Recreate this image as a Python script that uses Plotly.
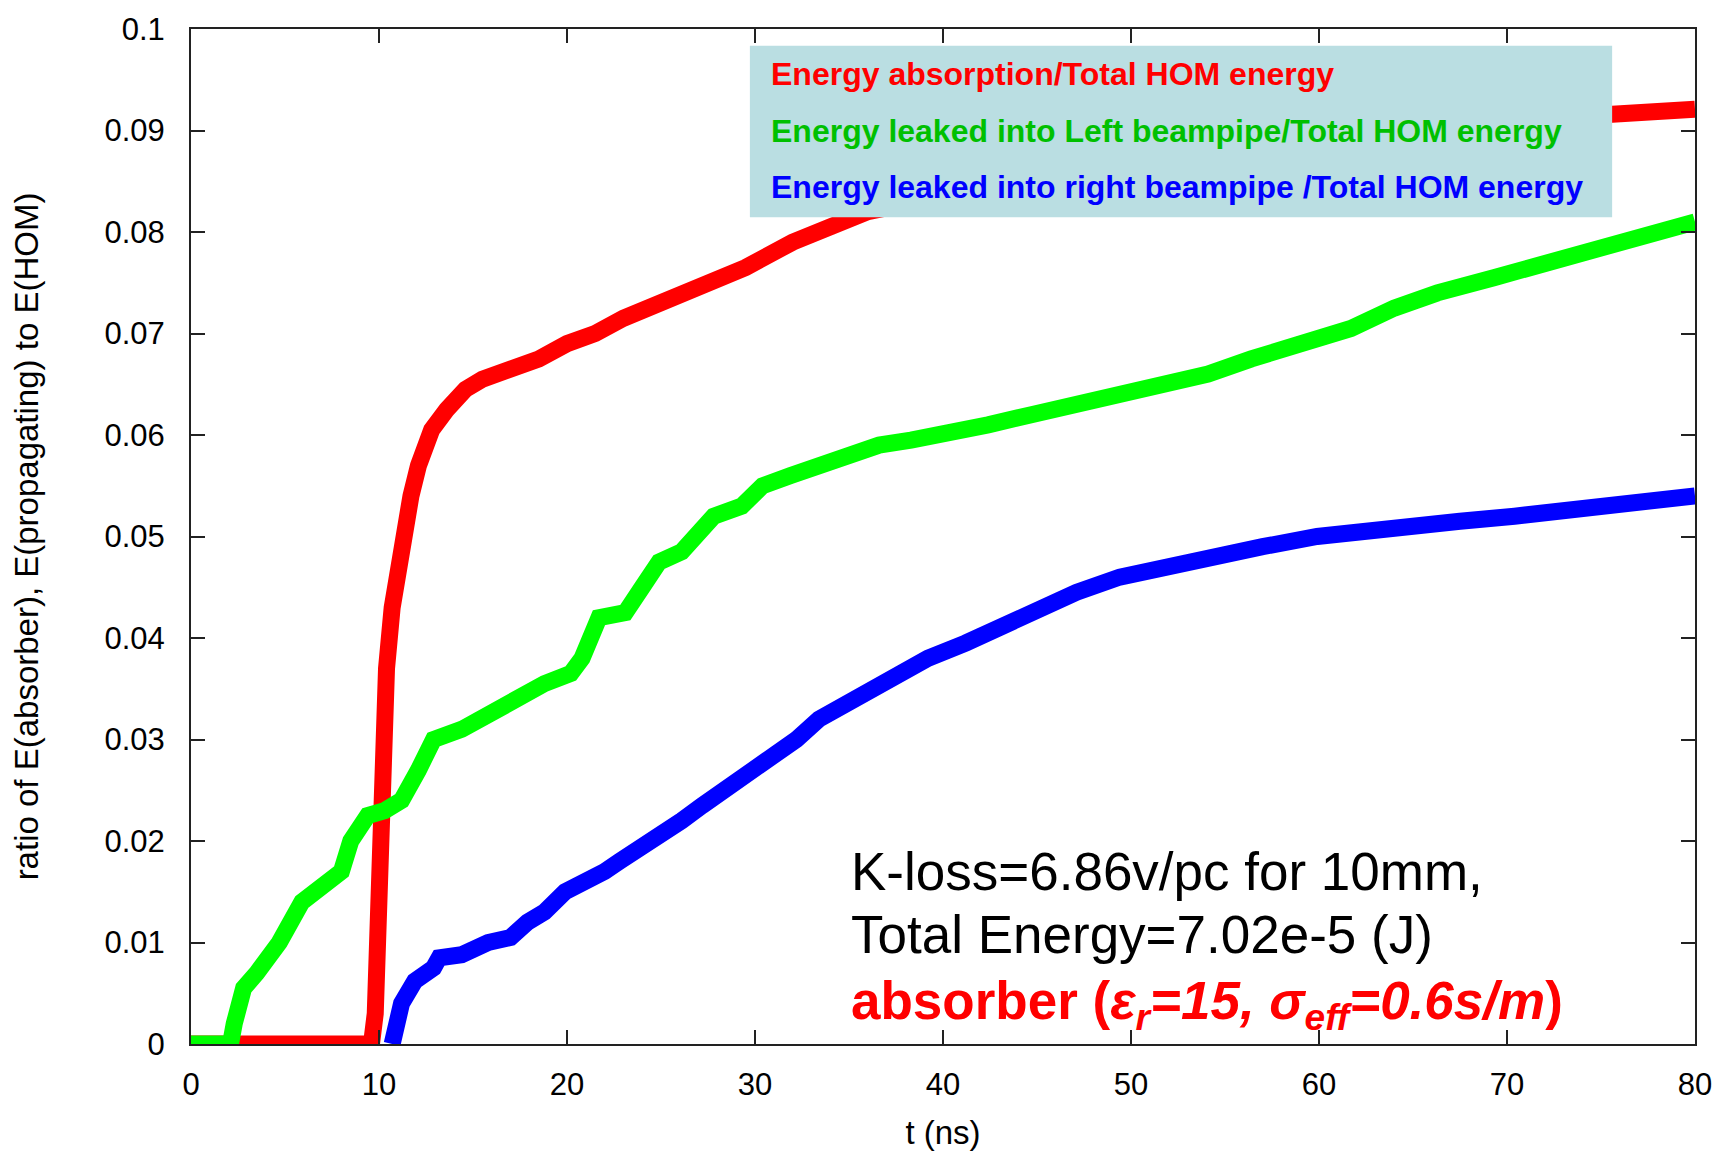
import plotly.graph_objects as go

# ---- data ----
t_abs = [0, 9.6, 9.8, 10.0, 10.2, 10.4, 10.7, 11.0, 11.3, 11.7, 12.1, 12.8, 13.6, 14.6, 15.5,
         17, 18.5, 20, 21.5, 23, 25, 27, 29.5, 32, 34, 36, 40, 50, 60, 70, 75.6, 78.0, 78.2, 80]
e_abs = [0, 0, 0.003, 0.015, 0.028, 0.037, 0.043, 0.047, 0.051, 0.054, 0.057, 0.0605, 0.0625,
         0.0645, 0.0655, 0.0665, 0.0675, 0.069, 0.070, 0.0715, 0.073, 0.0745, 0.0765, 0.079,
         0.0805, 0.082, 0.0835, 0.0865, 0.089, 0.091, 0.0916, 0.0917, 0.0920, 0.0921]

t_left = [0, 2.1, 2.3, 2.6, 2.8, 3.5, 4.7, 5.9, 7.1, 8.0, 8.5, 9.4, 10.3, 11.2, 12.1, 12.9,
          14.4, 15.8, 17.3, 18.8, 20.2, 20.8, 21.7, 23.1, 24.0, 24.9, 26.1, 26.9, 27.8, 29.3,
          30.4, 31.9, 33.4, 34.8, 36.6, 38.3, 40.1, 42.4, 44.7, 47.1, 50, 52.3, 54.1, 56.4,
          59.3, 61.7, 64, 66.3, 69.3, 72.2, 75.7, 80]
e_left = [0, 0, 0.002, 0.0045, 0.0055, 0.007, 0.010, 0.014, 0.0155, 0.017, 0.020, 0.0225,
          0.023, 0.024, 0.027, 0.030, 0.031, 0.0325, 0.034, 0.0355, 0.0365, 0.038, 0.042,
          0.0425, 0.045, 0.0475, 0.0485, 0.050, 0.052, 0.053, 0.055, 0.056, 0.057, 0.058,
          0.059, 0.0595, 0.060, 0.061, 0.062, 0.063, 0.064, 0.065, 0.066, 0.0675, 0.069,
          0.0705, 0.0725, 0.074, 0.0755, 0.077, 0.079, 0.081]

t_right = [10.7, 10.8, 11.2, 11.9, 12.9, 13.2, 14.4, 15.8, 17.0, 17.9, 18.8, 19.9, 21.1, 22.0,
           22.8, 23.7, 24.6, 26.1, 27.2, 28.4, 29.6, 30.7, 32.2, 33.4, 35.4, 37.1, 39.2, 41.2,
           43, 45, 47.1, 49.4, 51.7, 54.1, 57, 59.9, 64, 67.5, 70.4, 74.5, 80]
e_right = [0, 0.0014, 0.004, 0.0062, 0.0075, 0.0085, 0.0088, 0.010, 0.0105, 0.012, 0.013,
           0.015, 0.016, 0.017, 0.018, 0.019, 0.020, 0.022, 0.0235, 0.025, 0.0265, 0.028,
           0.030, 0.032, 0.034, 0.036, 0.038, 0.0395, 0.041, 0.043, 0.0445, 0.046, 0.047,
           0.048, 0.049, 0.050, 0.051, 0.0515, 0.052, 0.053, 0.054]

x_ticks = [0, 10, 20, 30, 40, 50, 60, 70, 80]
y_ticks = [0, 0.01, 0.02, 0.03, 0.04, 0.05, 0.06, 0.07, 0.08, 0.09, 0.1]
y_tick_text = ["0", "0.01", "0.02", "0.03", "0.04", "0.05", "0.06", "0.07", "0.08", "0.09", "0.1"]

legend_labels = ["Energy absorption/Total HOM energy",
                 "Energy leaked into Left beampipe/Total HOM energy",
                 "Energy leaked into right beampipe /Total HOM energy"]

LINE_W = 17
fig = go.Figure()
fig.add_trace(go.Scatter(x=t_abs, y=e_abs, mode="lines", line=dict(color="#FF0000", width=LINE_W),
                         name=legend_labels[0]))
fig.add_trace(go.Scatter(x=t_left, y=e_left, mode="lines", line=dict(color="#00FF00", width=LINE_W),
                         name=legend_labels[1]))
fig.add_trace(go.Scatter(x=t_right, y=e_right, mode="lines", line=dict(color="#0000FF", width=LINE_W),
                         name=legend_labels[2]))

FAM = "Liberation Sans, Arial, sans-serif"
tick_font = dict(family=FAM, size=31, color="#000000")
title_font = dict(family=FAM, size=33, color="#000000")
axis_common = dict(showline=True, linecolor="#222222", linewidth=2, mirror="ticks",
                   ticks="inside", ticklen=14, tickwidth=2, tickcolor="#222222",
                   showgrid=False, zeroline=False, tickfont=tick_font)

fig.update_xaxes(range=[0, 80], tickvals=x_ticks, ticklabelstandoff=12,
                 title=dict(text="t (ns)", font=title_font, standoff=20), **axis_common)
fig.update_yaxes(range=[0, 0.1], tickvals=y_ticks, ticktext=y_tick_text, ticklabelstandoff=18,
                 title=dict(text="ratio of E(absorber), E(propagating) to E(HOM)", font=title_font,
                            standoff=56), **axis_common)

# legend box (covers the curves like in the original)
fig.add_shape(type="rect", xref="paper", yref="paper", x0=0.3716, x1=0.9449, y0=0.8146, y1=0.9834,
              fillcolor="#BADEE2", line=dict(width=0), layer="above")

legend_colors = ["#FF0000", "#00C000", "#0000FF"]
legend_y = [0.9552, 0.8996, 0.8440]
for lab, col, yy in zip(legend_labels, legend_colors, legend_y):
    fig.add_annotation(xref="paper", yref="paper", x=0.3842, y=yy, xanchor="left", yanchor="middle",
                       text="<b>" + lab + "</b>", showarrow=False,
                       font=dict(family=FAM, size=32, color=col))

note_font = dict(family=FAM, size=53, color="#000000")
fig.add_annotation(xref="paper", yref="paper", x=0.4373, y=0.1700, xanchor="left", yanchor="middle",
                   text="K-loss=6.86v/pc for 10mm,", showarrow=False, font=note_font)
fig.add_annotation(xref="paper", yref="paper", x=0.4373, y=0.1075, xanchor="left", yanchor="middle",
                   text="Total Energy=7.02e-5 (J)", showarrow=False, font=note_font)
fig.add_annotation(xref="paper", yref="paper", x=0.4373, y=0.0385, xanchor="left", yanchor="middle",
                   text="<b>absorber (<i>ε<sub>r</sub>=15, σ<sub>eff</sub>=0.6s/m</i>)</b>",
                   showarrow=False, font=dict(family=FAM, size=53, color="#FF0000"))

fig.update_layout(width=1724, height=1157, margin=dict(l=191, r=26, t=27, b=105),
                  paper_bgcolor="white", plot_bgcolor="white", showlegend=False)

fig.write_html("out.html")
